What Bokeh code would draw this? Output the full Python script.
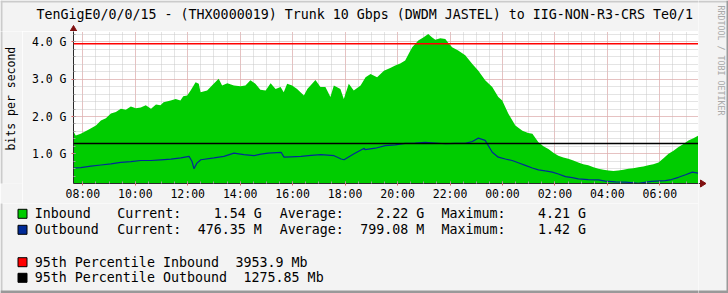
import numpy as np
from bokeh.plotting import figure
from bokeh.layouts import row, column
from bokeh.models import Span, FixedTicker, Range1d
from bokeh.core.properties import value
from bokeh.embed import file_html
from bokeh.resources import INLINE

# ---------------- data ----------------
title_text = "TenGigE0/0/0/15 - (THX0000019) Trunk 10 Gbps (DWDM JASTEL) to IIG-NON-R3-CRS Te0/1"
y_axis_title = "bits per second"
watermark = "RRDTOOL / TOBI OETIKER"

# hours since midnight of day 1 (24 = 00:00 next day), values in Gbit/s
in_hours = [7.66, 7.73, 7.92, 8.23, 8.50, 8.69, 8.88, 9.07, 9.26, 9.45, 9.64, 9.83,
            10.02, 10.21, 10.40, 10.60, 10.79, 10.96, 11.08, 11.35, 11.54, 11.72,
            11.83, 11.98, 12.11, 12.30, 12.42, 12.49, 12.74, 12.99, 13.18, 13.31,
            13.51, 13.76, 14.01, 14.20, 14.39, 14.58, 14.77, 14.97, 15.16, 15.35,
            15.54, 15.66, 15.79, 15.98, 16.17, 16.43, 16.56, 16.87, 17.06, 17.25,
            17.44, 17.57, 17.82, 17.95, 18.14, 18.33, 18.59, 18.78, 18.97, 19.22,
            19.48, 19.72, 19.91, 20.10, 20.29,
            20.44, 20.56, 20.79, 20.98, 21.17, 21.32, 21.44, 21.63, 21.82, 21.93, 22.08,
            22.31, 22.58, 22.85, 23.08, 23.34, 23.61, 23.84, 23.99, 24.22, 24.49, 24.76,
            24.98, 25.14, 25.37, 25.56, 25.75, 25.94, 26.13, 26.32, 26.51, 26.70, 26.89,
            27.08, 27.27, 27.47, 27.66, 27.85, 28.04, 28.23, 28.42, 28.61, 28.80, 28.99,
            29.18, 29.37, 29.56, 29.75, 29.95, 30.14, 30.33, 30.52, 30.71, 30.90, 31.09,
            31.28, 31.47]
in_gbps = [1.58, 1.49, 1.54, 1.65, 1.76, 1.89, 1.95, 2.08, 2.12, 2.21, 2.18, 2.27,
           2.22, 2.24, 2.30, 2.21, 2.32, 2.30, 2.38, 2.43, 2.47, 2.43,
           2.54, 2.56, 2.70, 2.92, 2.88, 2.65, 2.70, 2.88, 3.01, 2.83,
           2.89, 2.83, 2.81, 2.83, 2.97, 2.88, 2.72, 2.70, 2.89, 2.74,
           2.79, 2.65, 2.88, 2.83, 2.74, 2.56, 2.74, 2.98, 2.79, 2.79,
           2.52, 2.83, 2.74, 2.47, 2.88, 2.70, 2.83, 3.05, 3.14, 3.05,
           3.23, 3.30, 3.37, 3.42, 3.50,
           3.70, 3.86, 4.04, 4.12, 4.21, 4.12, 4.06, 4.10, 4.08, 3.98, 3.86,
           3.77, 3.64, 3.41, 3.23, 2.97, 2.79, 2.52, 2.43, 2.08, 1.76, 1.62,
           1.56, 1.54, 1.31, 1.20, 1.13, 1.03, 0.95, 0.90, 0.87, 0.82, 0.77,
           0.72, 0.69, 0.64, 0.60, 0.57, 0.55, 0.54, 0.55, 0.57, 0.60, 0.61,
           0.64, 0.66, 0.69, 0.72, 0.77, 0.88, 1.00, 1.08, 1.18, 1.26, 1.36,
           1.42, 1.49]

out_hours = [7.66, 7.92, 8.31, 8.69, 9.07, 9.45, 9.83, 10.21, 10.60, 10.98, 11.36,
             11.74, 12.05, 12.16, 12.24, 12.35, 12.50, 13.00, 13.38, 13.76, 14.14,
             14.53, 14.79, 15.06, 15.56, 15.67, 15.94, 16.32, 16.70, 17.08, 17.58,
             17.85, 17.96, 18.34, 18.73, 18.76, 19.15, 19.53, 19.91, 20.29, 20.67,
             21.05, 21.44, 21.82, 22.20, 22.58, 22.85, 23.08, 23.34, 23.61, 23.84,
             24.11, 24.37, 24.60, 24.87, 25.14, 25.37, 25.63, 25.90, 26.13, 26.40,
             26.66, 26.89, 27.27, 27.66, 27.92, 28.31, 28.69, 29.18, 29.68, 30.21,
             30.44, 30.71, 30.98, 31.24, 31.47]
out_gbps = [0.62, 0.63, 0.67, 0.70, 0.73, 0.77, 0.79, 0.82, 0.82, 0.84, 0.86,
            0.89, 0.93, 0.80, 0.60, 0.75, 0.84, 0.89, 0.93, 1.02, 0.98,
            0.95, 0.99, 1.02, 1.04, 0.91, 0.92, 0.93, 0.96, 0.98, 0.95,
            0.86, 0.84, 1.00, 1.15, 1.11, 1.15, 1.22, 1.24, 1.28, 1.29,
            1.31, 1.29, 1.27, 1.28, 1.28, 1.33, 1.42, 1.36, 1.04, 0.91,
            0.86, 0.82, 0.76, 0.69, 0.62, 0.57, 0.54, 0.51, 0.46, 0.39,
            0.36, 0.33, 0.31, 0.30, 0.27, 0.25, 0.24, 0.21, 0.26, 0.28,
            0.31, 0.37, 0.44, 0.51, 0.48]

x_tick_hours = [8, 10, 12, 14, 16, 18, 20, 22, 24, 26, 28, 30]
x_tick_labels = ["08:00", "10:00", "12:00", "14:00", "16:00", "18:00",
                 "20:00", "22:00", "00:00", "02:00", "04:00", "06:00"]
y_ticks = [1, 2, 3, 4]
y_tick_labels = ["1.0 G", "2.0 G", "3.0 G", "4.0 G"]

series_names = ["Inbound", "Outbound"]
series_colors = ["#00CC00", "#002A97"]
current_vals = ["1.54 G", "476.35 M"]
average_vals = ["2.22 G", "799.08 M"]
maximum_vals = ["4.21 G", "1.42 G"]
pct_names = ["95th Percentile Inbound", "95th Percentile Outbound"]
pct_values_mb = [3953.9, 1275.85]
pct_colors = ["#FF0000", "#000000"]

# ---------------- styling / layout ----------------
W, H = 728, 293
FL, FR, FT, FB = 73, 698, 31, 183      # plot frame in page pixels
MONO = "DejaVu Sans Mono"
BG = "#F3F3F3"
AX = "#2A2A2A"
ARROW = "#801010"
MG = "#E8A0A0"
mg = "#C8C8C8"
SHADE_A = "#CBCBCB"
SHADE_B = "#999999"
# page frame pieces: left, right, top, bottom (page px), colour
BORDERS = [(0, 2, 0, H, SHADE_A), (0, W, 0, 2, SHADE_A),
           (W - 2, W, 0, H, SHADE_B), (0, W, H - 3, H, SHADE_B)]


def pixfig(x0, y0, w, h):
    f = figure(width=w, height=h, output_backend="svg", toolbar_location=None,
               title=None, x_range=Range1d(x0, x0 + w), y_range=Range1d(y0 + h, y0),
               x_axis_type=None, y_axis_type=None, min_border=0,
               background_fill_color=BG, border_fill_color=BG,
               outline_line_color=None)
    f.grid.visible = False
    for (l, r, t, b, c) in BORDERS:
        f.quad(left=l, right=r, top=t, bottom=b, fill_color=c, line_color=None)
    return f


def txt(f, xs, ys, ss, size="13.3px", align="left", color="black", angle=0.0):
    f.text(x=xs, y=ys, text=ss, text_font=value(MONO), text_font_size=size,
           text_align=align, text_baseline="middle", text_color=color, angle=angle)


# ---- header (title) ----
LEFTW = 22
header = pixfig(0, 0, FR, FT)
txt(header, [36], [14], [title_text])
header.segment(x0=[FL], y0=[FT + 1], x1=[FL], y1=[26], line_color=AX, line_width=1)
header.patch(x=[FL - 3.5, FL + 3.5, FL], y=[FT, FT, 25], fill_color=ARROW, line_color=ARROW)

# ---- left strip (y axis title) ----
left_mid = pixfig(0, FT, LEFTW, 203 - FT)
txt(left_mid, [10.5], [107], [y_axis_title], size="11.5px", align="center", angle=np.pi / 2)

# ---- main chart ----
main = figure(width=FR - LEFTW, height=203 - FT, output_backend="svg",
              toolbar_location=None, title=None,
              x_range=Range1d(7.645, 31.473), y_range=Range1d(0.204, 4.279),
              min_border_left=FL - LEFTW, min_border_right=0,
              min_border_top=0, min_border_bottom=203 - FB,
              background_fill_color="white", border_fill_color=BG,
              outline_line_color=None)

xticker = FixedTicker(ticks=x_tick_hours,
                      minor_ticks=list(np.arange(7.5, 31.6, 0.5)))
yticker = FixedTicker(ticks=y_ticks,
                      minor_ticks=list(np.round(np.arange(0.2, 4.3, 0.2), 2)))

for ax, tk, labels in ((main.xaxis[0], xticker, dict(zip(x_tick_hours, x_tick_labels))),
                       (main.yaxis[0], yticker, dict(zip(y_ticks, y_tick_labels)))):
    ax.ticker = tk
    ax.major_label_overrides = labels
    ax.axis_line_color = AX
    ax.major_tick_line_color = "#E06060"
    ax.minor_tick_line_color = "#A0A0A0"
    ax.major_tick_in = 2
    ax.major_tick_out = 2
    ax.minor_tick_in = 2
    ax.minor_tick_out = 0
    ax.major_label_text_font = MONO
    ax.major_label_text_font_size = "11.5px"
    ax.major_label_text_color = "black"
main.xaxis[0].major_label_standoff = 1
main.yaxis[0].major_label_standoff = 5

main.xgrid.ticker = xticker
main.ygrid.ticker = yticker
for g in (main.xgrid[0], main.ygrid[0]):
    g.grid_line_color = MG
    g.grid_line_dash = "1 1"
    g.minor_grid_line_color = mg
    g.minor_grid_line_dash = "1 1"

main.varea(x=in_hours, y1=0, y2=in_gbps, fill_color=series_colors[0])
main.line(x=out_hours, y=out_gbps, line_color=series_colors[1], line_width=1.2)
for v, c in zip(pct_values_mb, pct_colors):
    main.add_layout(Span(location=v / 1000.0, dimension="width",
                         line_color=c, line_width=1.5))

# ---- footer (legend) ----
footer = pixfig(0, 203, FR, H - 203)
CW = 8.03
rows = [213.3, 229.3]
prow = [261.7, 277.3]
sq_colors = series_colors + pct_colors
sq_y = rows + prow
footer.quad(left=[17.5] * 4, right=[26.5] * 4,
            top=[y - 4.5 for y in sq_y], bottom=[y + 4.5 for y in sq_y],
            fill_color=sq_colors, line_color="black", line_width=1)
txt(footer, [34.3, 34.3], rows, series_names)
txt(footer, [116.7, 116.7], rows, ["Current:", "Current:"])
txt(footer, [279.3, 279.3], rows, ["Average:", "Average:"])
txt(footer, [441.0, 441.0], rows, ["Maximum:", "Maximum:"])
txt(footer, [116.7 + 18 * CW] * 2, rows, current_vals, align="right")
txt(footer, [279.3 + 18 * CW] * 2, rows, average_vals, align="right")
txt(footer, [441.0 + 18 * CW] * 2, rows, maximum_vals, align="right")
txt(footer, [34.3, 34.3], prow, pct_names)
txt(footer, [34.3 + (len(n) + 2) * CW for n in pct_names], prow,
    [("%.2f" % v).rstrip("0") + " Mb" for v in pct_values_mb])

# ---- right strip (watermark, x-axis arrow) ----
right = pixfig(FR, 0, W - FR, H)
txt(right, [720.5], [5], [watermark], size="8.3px", color="#A8A8A8", angle=-np.pi / 2)
right.segment(x0=[FR], y0=[FB], x1=[FR + 3], y1=[FB], line_color=AX, line_width=1)
right.patch(x=[FR + 2, FR + 2, FR + 7.5], y=[FB - 3.5, FB + 3.5, FB],
            fill_color=ARROW, line_color=ARROW)

layout = row(column(header, row(left_mid, main), footer), right)
open("out.html", "w").write(file_html(layout, INLINE))
